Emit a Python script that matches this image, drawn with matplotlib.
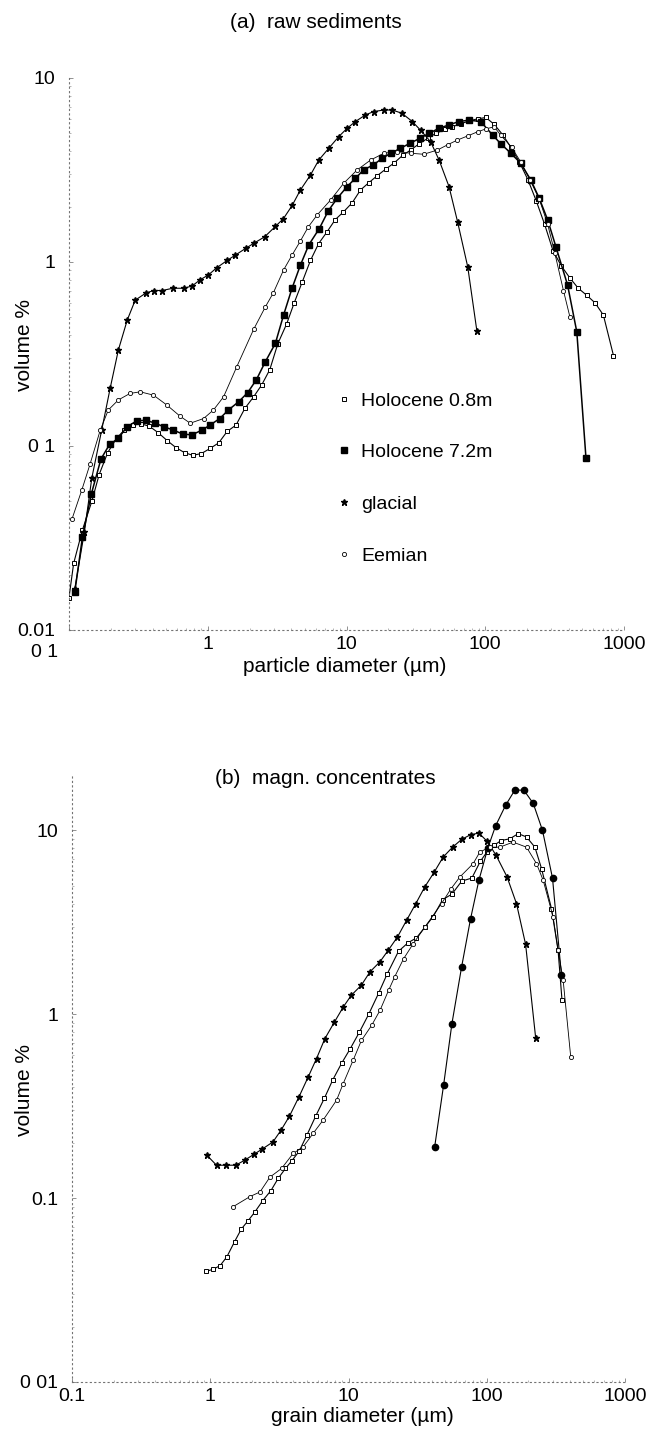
import matplotlib
matplotlib.use("Agg")
import matplotlib.pyplot as plt
from matplotlib.lines import Line2D
from matplotlib.ticker import FixedLocator, NullFormatter
from matplotlib.transforms import ScaledTranslation

plt.rcParams['font.family'] = ['Liberation Sans', 'DejaVu Sans']

# ---------------- panel (a) raw sediments ----------------
a_hol08_x = [0.100, 0.108, 0.125, 0.146, 0.165, 0.19, 0.22, 0.25, 0.29, 0.33, 0.38, 0.44, 0.51, 0.59,
             0.68, 0.78, 0.90, 1.04, 1.2, 1.38, 1.6, 1.85, 2.14, 2.45, 2.8, 3.2, 3.7, 4.2, 4.8, 5.5,
             6.3, 7.2, 8.3, 9.5, 11.0, 12.6, 14.5, 16.7, 19.2, 22, 25.4, 29, 33.5, 38.5, 44, 51, 58,
             67, 77, 88, 101, 116, 134, 153, 176, 203, 233, 268, 308, 354, 407, 468, 538, 618, 710, 840]
a_hol08_y = [0.015, 0.023, 0.035, 0.050, 0.070, 0.092, 0.110, 0.122, 0.130, 0.132, 0.128, 0.118, 0.107,
             0.098, 0.092, 0.089, 0.091, 0.097, 0.104, 0.120, 0.130, 0.160, 0.185, 0.215, 0.26, 0.36,
             0.46, 0.6, 0.78, 1.02, 1.26, 1.45, 1.7, 1.87, 2.1, 2.46, 2.7, 2.95, 3.2, 3.45, 3.8, 4.06,
             4.4, 4.7, 5.0, 5.25, 5.43, 5.65, 5.85, 6.0, 6.1, 5.6, 4.9, 4.2, 3.5, 2.8, 2.15, 1.6, 1.15,
             0.95, 0.82, 0.72, 0.66, 0.60, 0.515, 0.31]

a_hol72_x = [0.110, 0.125, 0.145, 0.170, 0.196, 0.227, 0.261, 0.308, 0.36, 0.418, 0.485, 0.566, 0.662,
             0.769, 0.908, 1.04, 1.22, 1.41, 1.67, 1.94, 2.24, 2.6, 3.07, 3.52, 4.05, 4.65, 5.35, 6.37,
             7.4, 8.58, 10.1, 11.6, 13.3, 15.6, 18.1, 20.8, 24.5, 28.7, 33.8, 39.3, 46.4, 54.8, 64.6,
             76.4, 92.7, 113, 129, 153, 180, 213, 245, 282, 323, 392, 457, 532]
a_hol72_y = [0.016, 0.032, 0.055, 0.085, 0.102, 0.110, 0.127, 0.137, 0.138, 0.133, 0.127, 0.122, 0.116,
             0.115, 0.122, 0.13, 0.141, 0.157, 0.174, 0.195, 0.229, 0.287, 0.361, 0.515, 0.72, 0.96,
             1.24, 1.52, 1.9, 2.22, 2.57, 2.85, 3.17, 3.37, 3.66, 3.9, 4.15, 4.42, 4.7, 5.0, 5.33, 5.56,
             5.8, 5.9, 5.8, 4.9, 4.4, 3.9, 3.44, 2.79, 2.22, 1.69, 1.21, 0.75, 0.417, 0.086]

a_glac_x = [0.110, 0.129, 0.146, 0.172, 0.198, 0.227, 0.263, 0.30, 0.36, 0.41, 0.47, 0.56, 0.67, 0.77,
            0.88, 1.01, 1.16, 1.38, 1.58, 1.89, 2.17, 2.57, 3.07, 3.51, 4.06, 4.65, 5.50, 6.31, 7.45,
            8.79, 10.1, 11.6, 13.7, 15.7, 18.6, 21.4, 25.1, 29.8, 34.2, 40.4, 46.5, 54.8, 63.1, 74.8, 87.1]
a_glac_y = [0.0167, 0.034, 0.067, 0.122, 0.206, 0.333, 0.484, 0.62, 0.68, 0.70, 0.70, 0.72, 0.72, 0.74,
            0.80, 0.85, 0.93, 1.02, 1.09, 1.19, 1.27, 1.37, 1.56, 1.72, 2.03, 2.46, 2.97, 3.58, 4.15,
            4.8, 5.33, 5.8, 6.3, 6.57, 6.7, 6.7, 6.43, 5.8, 5.2, 4.5, 3.58, 2.57, 1.66, 0.94, 0.42]

a_eem_x = [0.105, 0.124, 0.142, 0.168, 0.192, 0.227, 0.275, 0.326, 0.406, 0.507, 0.633, 0.748, 0.933,
           1.10, 1.30, 1.62, 2.14, 2.60, 2.97, 3.52, 4.05, 4.65, 5.3, 6.14, 7.67, 9.55, 11.9, 14.9,
           18.6, 23.2, 29, 36, 45.2, 54, 63, 75, 88, 102, 116, 129, 155, 180, 210, 245, 282, 317, 366, 407]
a_eem_y = [0.040, 0.058, 0.080, 0.122, 0.157, 0.178, 0.193, 0.197, 0.189, 0.167, 0.145, 0.133, 0.141,
           0.157, 0.185, 0.27, 0.43, 0.57, 0.68, 0.905, 1.09, 1.3, 1.55, 1.8, 2.17, 2.68, 3.16, 3.58,
           3.9, 3.98, 3.9, 3.85, 4.06, 4.35, 4.6, 4.85, 5.1, 5.3, 5.43, 4.9, 4.2, 3.5, 2.8, 2.2, 1.6,
           1.12, 0.7, 0.505]

# ---------------- panel (b) magnetic concentrates ----------------
b_hol08_x = [0.93, 1.05, 1.18, 1.32, 1.5, 1.68, 1.87, 2.1, 2.4, 2.75, 3.1, 3.5, 3.9, 4.4, 5.0, 5.8, 6.7,
             7.7, 8.9, 10.3, 12.0, 14.0, 16.5, 19.0, 23.0, 27, 31, 36, 41, 48, 56, 66, 78, 90, 100, 113,
             127, 147, 169, 194, 223, 249, 294, 328, 350]
b_hol08_y = [0.040, 0.041, 0.043, 0.048, 0.058, 0.068, 0.075, 0.084, 0.097, 0.11, 0.128, 0.145, 0.16,
             0.18, 0.22, 0.28, 0.35, 0.44, 0.54, 0.65, 0.80, 1.0, 1.3, 1.65, 2.2, 2.45, 2.6, 3.0, 3.4,
             4.2, 4.5, 5.3, 5.5, 6.8, 7.6, 8.3, 8.8, 9.0, 9.6, 9.2, 8.1, 6.2, 3.75, 2.23, 1.2]

b_hol72_x = [42, 48.7, 56, 65.8, 76.4, 87.7, 102, 116, 137, 160, 186, 217, 253, 299, 347]
b_hol72_y = [0.19, 0.41, 0.89, 1.81, 3.31, 5.35, 8.05, 10.6, 13.7, 16.6, 16.5, 14.0, 10.0, 5.5, 1.63]

b_glac_x = [0.946, 1.11, 1.3, 1.53, 1.78, 2.07, 2.38, 2.84, 3.25, 3.74, 4.38, 5.09, 5.87, 6.75, 7.92,
            9.2, 10.5, 12.4, 14.3, 16.9, 19.4, 22.6, 26.3, 30.7, 35.6, 41.7, 48.4, 56.6, 65.8, 76.4,
            87.7, 101, 117, 140, 164, 191, 226]
b_glac_y = [0.171, 0.151, 0.151, 0.151, 0.161, 0.173, 0.185, 0.202, 0.234, 0.279, 0.355, 0.453, 0.574,
            0.737, 0.908, 1.1, 1.27, 1.44, 1.7, 1.93, 2.23, 2.63, 3.24, 4.0, 4.92, 5.93, 7.16, 8.1,
            8.93, 9.47, 9.66, 8.7, 7.3, 5.6, 4.0, 2.4, 0.74]

b_eem_x = [1.47, 1.94, 2.29, 2.7, 3.28, 3.98, 4.7, 5.55, 6.56, 8.2, 9.16, 10.8, 12.4, 14.7, 16.9, 19.5,
           21.6, 25, 29.4, 35.7, 47.1, 55, 63.8, 79.7, 89.1, 105, 124, 155, 194, 229, 256, 302, 328,
           357, 405]
b_eem_y = [0.090, 0.102, 0.108, 0.13, 0.145, 0.175, 0.19, 0.225, 0.266, 0.341, 0.42, 0.562, 0.72, 0.87,
           1.05, 1.35, 1.6, 2.0, 2.42, 2.98, 4.0, 4.8, 5.57, 6.59, 7.62, 8.1, 8.1, 8.63, 8.1, 6.59,
           5.35, 3.38, 2.23, 1.53, 0.586]

x_ticks = [0.1, 1, 10, 100, 1000]
a_xlabels = ['0 1', '1', '10', '100', '1000']
b_xlabels = ['0.1', '1', '10', '100', '1000']
y_ticks = [0.01, 0.1, 1, 10]
a_ylabels = ['0.01', '0 1', '1', '10']
b_ylabels = ['0 01', '0.1', '1', '10']
legend_labels = ['Holocene 0.8m', 'Holocene 7.2m', 'glacial', 'Eemian']

W, H = 654, 1441
fig = plt.figure(figsize=(W / 100, H / 100), dpi=100)


def px_axes(x0, x1, ytop, ybot):
    return fig.add_axes([x0 / W, 1 - ybot / H, (x1 - x0) / W, (ybot - ytop) / H])


def style_axes(ax, xlabels, ylabels, ytop):
    ax.set_xscale('log')
    ax.set_yscale('log')
    ax.set_xlim(0.1, 1000)
    ax.set_ylim(0.01, ytop)
    for s in ['top', 'right']:
        ax.spines[s].set_visible(False)
    for s in ['left', 'bottom']:
        ax.spines[s].set_linestyle((0, (1, 3)))
        ax.spines[s].set_color('0.45')
        ax.spines[s].set_linewidth(0.8)
    ax.xaxis.set_major_locator(FixedLocator(x_ticks))
    ax.set_xticklabels(xlabels)
    ax.yaxis.set_major_locator(FixedLocator(y_ticks))
    ax.set_yticklabels(ylabels)
    minors = [m * d for d in [0.01, 0.1, 1, 10, 100] for m in range(2, 10)]
    ax.xaxis.set_minor_locator(FixedLocator([v for v in minors if 0.1 < v < 1000]))
    ax.yaxis.set_minor_locator(FixedLocator([v for v in minors if 0.01 < v < ytop]))
    ax.xaxis.set_minor_formatter(NullFormatter())
    ax.yaxis.set_minor_formatter(NullFormatter())
    ax.tick_params(axis='both', which='major', direction='in', length=3, width=0.6,
                   color='0.5', labelsize=14)
    ax.tick_params(axis='both', which='minor', direction='in', length=1.5, width=0.5, color='0.6')
    ax.tick_params(axis='y', which='major', pad=10)
    ax.tick_params(axis='x', which='major', pad=4)
    ax.patch.set_alpha(0)


lw = 0.8
# ---- panel a ----
axa = px_axes(69, 624, 78, 630)
style_axes(axa, a_xlabels, a_ylabels, 10)
axa.plot(a_hol08_x, a_hol08_y, color='k', lw=lw, marker='s', ms=3.5, mfc='white', mec='k', mew=0.7,
         label=legend_labels[0])
axa.plot(a_hol72_x, a_hol72_y, color='k', lw=1.1, marker='s', ms=4, mfc='k', mec='k',
         label=legend_labels[1])
axa.plot(a_glac_x, a_glac_y, color='k', lw=lw, marker='*', ms=5, mfc='k', mec='k',
         label=legend_labels[2])
axa.plot(a_eem_x, a_eem_y, color='k', lw=0.6, marker='o', ms=3, mfc='white', mec='k', mew=0.6,
         label=legend_labels[3])

# the first x tick label of panel (a) sits left of the axis, under "0.01", in the original
first_lab = axa.get_xticklabels()[0]
first_lab.set_transform(first_lab.get_transform()
                        + ScaledTranslation(-0.24, -0.08, fig.dpi_scale_trans))

handles = [Line2D([], [], ls='none', marker='s', ms=3.5, mfc='white', mec='k', mew=0.7),
           Line2D([], [], ls='none', marker='s', ms=4, mfc='k', mec='k'),
           Line2D([], [], ls='none', marker='*', ms=5, mfc='k', mec='k'),
           Line2D([], [], ls='none', marker='o', ms=3, mfc='white', mec='k', mew=0.6)]
axa.legend(handles, legend_labels, loc='upper left', bbox_to_anchor=(336 / W, 1 - 392 / H),
           bbox_transform=fig.transFigure, frameon=False, fontsize=14, handlelength=0.8,
           handletextpad=0.5, labelspacing=1.75, borderpad=0, borderaxespad=0)

fig.text(316 / W, 1 - 22 / H, '(a)  raw sediments', ha='center', va='center', fontsize=15)
fig.text(345 / W, 1 - 667 / H, 'particle diameter (µm)', ha='center', va='center', fontsize=15)
fig.text(25 / W, 1 - 345 / H, 'volume %', ha='center', va='center', rotation=90, fontsize=15)

# ---- panel b ----
axb = px_axes(72, 625, 775, 1382)
style_axes(axb, b_xlabels, b_ylabels, 20)
axb.plot(b_hol08_x, b_hol08_y, color='k', lw=lw, marker='s', ms=3.5, mfc='white', mec='k', mew=0.7)
axb.plot(b_hol72_x, b_hol72_y, color='k', lw=lw, marker='o', ms=4.5, mfc='k', mec='k')
axb.plot(b_glac_x, b_glac_y, color='k', lw=lw, marker='*', ms=5, mfc='k', mec='k')
axb.plot(b_eem_x, b_eem_y, color='k', lw=0.6, marker='o', ms=3, mfc='white', mec='k', mew=0.6)

fig.text(325 / W, 1 - 778 / H, '(b)  magn. concentrates', ha='center', va='center', fontsize=15)
fig.text(362 / W, 1 - 1417 / H, 'grain diameter (µm)', ha='center', va='center', fontsize=15)
fig.text(25 / W, 1 - 1090 / H, 'volume %', ha='center', va='center', rotation=90, fontsize=15)

fig.savefig('out.png', dpi=100)
